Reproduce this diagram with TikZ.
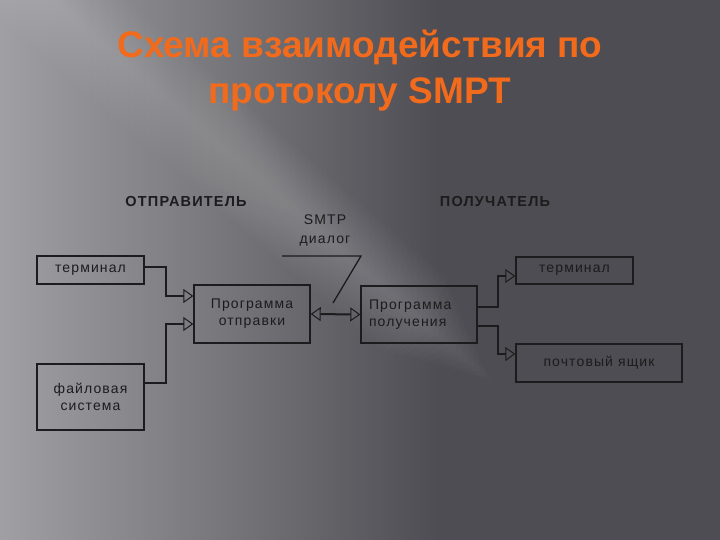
\documentclass[tikz,border=0pt]{standalone}
\usepackage{fontspec}
\setmainfont{Liberation Sans}
\newfontfamily\boxfont[LetterSpace=8]{Liberation Sans}
\usetikzlibrary{arrows.meta}
\definecolor{bgdark}{HTML}{4D4D53}
\definecolor{bglight}{HTML}{A0A0A4}
\definecolor{titleorange}{HTML}{F26A1B}
\definecolor{ink}{HTML}{1C1C1E}

\begin{document}
\begin{tikzpicture}[x=1pt, y=-1pt, thick,
    box/.style = {draw=ink, line width=1.4pt, inner sep=0pt, font=\boxfont\fontsize{14}{17}\selectfont, text=ink},
    conn/.style = {draw=ink, line width=2pt},
    tri/.tip = {Triangle[open, length=10pt, width=14pt, line width=1pt]},
    head/.style = {font=\boxfont\bfseries\fontsize{14.5}{16}\selectfont, text=ink}]
        \useasboundingbox (0,0) rectangle (720,540);
        % background
        \fill[bgdark] (0,0) rectangle (720,540);
        \shade[left color=bglight, right color=bgdark] (0,0) rectangle (440,540);
        \begin{scope}[shift={(300,215)}, rotate=-41]
            \foreach \w in {4,8,...,48}
                \fill[white, opacity=0.014] (-420,-\w) -- (250-2*\w,-\w) -- (262-2*\w,0) -- (250-2*\w,\w) -- (-420,\w) -- cycle;
        \end{scope}

        % title
        \node (title) at (360,71) [text=titleorange, font=\bfseries\fontsize{37}{46}\selectfont, align=center]
            {Схема взаимодействия по\\протоколу SMPT};

        \node[head] (send) at (186,202) {ОТПРАВИТЕЛЬ};
        \node[head] (recv) at (495,202) {ПОЛУЧАТЕЛЬ};
        \node (smtp) at (325,231) [font=\boxfont\fontsize{14}{19}\selectfont, text=ink, align=center] {SMTP\\диалог};

        \node[box, minimum width=107pt, minimum height=28pt] (term1) at (90.5,270) {терминал};
        \node[box, minimum width=107pt, minimum height=66pt, align=center] (fs) at (90.5,397) {файловая\\система};
        \node[box, minimum width=116pt, minimum height=58pt, align=center] (prog1) at (252,314) {Программа\\отправки};
        \node[box, text width=100pt, inner xsep=8pt, minimum height=57pt, align=left] (prog2) at (419,314.5) {Программа\\получения};
        \node[box, minimum width=117pt, minimum height=27pt] (term2) at (574.5,270.5) {терминал};
        \node[box, minimum width=166pt, minimum height=38pt] (mail) at (599,363) {почтовый ящик};

        \draw[conn, -tri] ([yshift=3pt]term1.east) -- ++(21,0) |- ([yshift=18pt]prog1.west);
        \draw[conn, -tri] ([yshift=14pt]fs.east) -- ++(21,0) |- ([yshift=-10pt]prog1.west);
        \draw[conn, tri-tri] (prog1.east) -- (prog2.west);
        \draw[conn, -tri] ([yshift=8pt]prog2.east) -- ++(20,0) |- ([yshift=-5.5pt]term2.west);
        \draw[conn, -tri] ([yshift=-11pt]prog2.east) -- ++(20,0) |- ([yshift=9pt]mail.west);

        \coordinate (c1) at (282,256);
        \coordinate (c2) at (361,256);
        \coordinate (c3) at (333,303);
        \draw[draw=ink, line width=1.3pt] (c1) -- (c2) -- (c3);
    \end{tikzpicture}
\end{document}
